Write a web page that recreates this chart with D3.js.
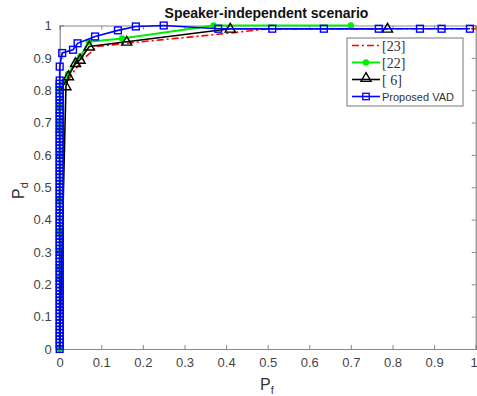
<!DOCTYPE html>
<html>
<head>
<meta charset="utf-8">
<script src="https://cdn.jsdelivr.net/npm/d3@7"></script>
<style>
body { margin: 0; background: #fff; }
text { font-family: "Liberation Sans", Arial, sans-serif; }
</style>
</head>
<body>
<svg width="477" height="396"></svg>
<script>
var svg = d3.select("svg");

//data
var xTicks = [0, 0.1, 0.2, 0.3, 0.4, 0.5, 0.6, 0.7, 0.8, 0.9, 1];
var yTicks = [0, 0.1, 0.2, 0.3, 0.4, 0.5, 0.6, 0.7, 0.8, 0.9, 1];

// [23] red dash-dot, no markers
var ref23X = [0, 0.003, 0.01, 0.02, 0.035, 0.06, 0.09, 0.16, 0.42, 0.5, 0.6, 0.8, 1];
var ref23Y = [0, 0.78, 0.81, 0.83, 0.86, 0.9, 0.935, 0.945, 0.978, 0.99, 0.99, 0.99, 0.99];

// [22] green with dots
var ref22X = [0, 0, 0, 0, 0, 0, 0, 0, 0, 0, 0.002, 0.01, 0.02, 0.04, 0.05, 0.07, 0.15, 0.37, 0.7];
var ref22Y = [0, 0.22, 0.25, 0.3, 0.36, 0.46, 0.6, 0.68, 0.7, 0.75, 0.8, 0.825, 0.85, 0.89, 0.905, 0.95, 0.96, 1, 1];

// [6] black with triangles
var ref6X = [0, 0.015, 0.021, 0.038, 0.049, 0.071, 0.161, 0.41, 0.788];
var ref6Y = [0, 0.812, 0.843, 0.884, 0.894, 0.935, 0.95, 0.99, 0.99];

// proposed VAD blue with squares: dense run on the Pf = 0 edge, then the knee
var vadEdgeY = [0, 0.01, 0.02, 0.03, 0.04, 0.05, 0.06, 0.07, 0.08, 0.09, 0.1, 0.11, 0.12, 0.13, 0.14,
  0.15, 0.16, 0.17, 0.18, 0.19, 0.2, 0.21, 0.22, 0.23, 0.24, 0.25, 0.26, 0.27, 0.28, 0.29, 0.3,
  0.31, 0.32, 0.33, 0.34, 0.35, 0.36, 0.37, 0.38, 0.39, 0.4, 0.41, 0.42, 0.43, 0.44, 0.45, 0.46,
  0.47, 0.48, 0.49, 0.5, 0.51, 0.52, 0.53, 0.54, 0.55, 0.56, 0.57, 0.58, 0.59, 0.6, 0.61, 0.62,
  0.63, 0.64, 0.65, 0.66, 0.67, 0.68, 0.69, 0.7, 0.71, 0.72, 0.73, 0.74, 0.75, 0.76, 0.77, 0.78,
  0.79, 0.8, 0.81, 0.82, 0.83];
var vadKneeX = [0, 0.006, 0.032, 0.043, 0.085, 0.14, 0.183, 0.25, 0.381, 0.511, 0.635, 0.767, 0.866, 0.918, 0.986];
var vadKneeY = [0.873, 0.915, 0.925, 0.945, 0.966, 0.985, 0.997, 1, 0.99, 0.99, 0.99, 0.99, 0.99, 0.99, 0.99];

var names = ["[23]", "[22]", "[ 6]", "Proposed VAD"];

//scales
var x = d3.scaleLinear().domain([0, 1]).range([59.7, 475.7]);
var y = d3.scaleLinear().domain([0, 1]).range([349, 25.5]);

var axisColor = "#888";
var labelColor = "#444";
var fmt = function (d) { return d === 0 || d === 1 ? d : d3.format(".1f")(d); };

//axes with inward ticks, box on all sides
var axBottom = svg.append("g")
	.attr("transform", "translate(0," + y(0) + ")")
	.call(d3.axisBottom(x).tickValues(xTicks).tickSize(-4).tickPadding(9).tickFormat(fmt));
var axLeft = svg.append("g")
	.attr("transform", "translate(" + x(0) + ",0)")
	.call(d3.axisLeft(y).tickValues(yTicks).tickSize(-4).tickPadding(8).tickFormat(fmt));
var axTop = svg.append("g")
	.attr("transform", "translate(0," + y(1) + ")")
	.call(d3.axisTop(x).tickValues(xTicks).tickSize(-4).tickFormat(""));
var axRight = svg.append("g")
	.attr("transform", "translate(" + x(1) + ",0)")
	.call(d3.axisRight(y).tickValues(yTicks).tickSize(-4).tickFormat(""));

[axBottom, axLeft, axTop, axRight].forEach(function (a) {
	a.attr("font-family", "'Liberation Sans', Arial, sans-serif").attr("font-size", 13);
	a.select(".domain").attr("stroke", axisColor).attr("stroke-width", 1.2);
	a.selectAll(".tick line").attr("stroke", axisColor);
	a.selectAll(".tick text").attr("fill", labelColor);
});
//last x label sits at the window edge
axBottom.selectAll(".tick text").filter(function (d) { return d === 1; }).attr("dx", -2);

//title and axis labels
svg.append("text")
	.attr("x", 266.5).attr("y", 18)
	.attr("text-anchor", "middle")
	.style("font-size", "14px").style("font-weight", "bold")
	.attr("fill", "#111")
	.text("Speaker-independent scenario");

var xl = svg.append("text")
	.attr("x", 260).attr("y", 390)
	.style("font-size", "16px").attr("fill", "#333");
xl.append("tspan").text("P");
xl.append("tspan").attr("dy", 4).style("font-size", "11px").text("f");

var yl = svg.append("text")
	.attr("transform", "translate(24,199) rotate(-90)")
	.style("font-size", "16px").attr("fill", "#333");
yl.append("tspan").text("P");
yl.append("tspan").attr("dy", 4).style("font-size", "11px").text("d");

var line = d3.line()
	.x(function (d) { return x(d[0]); })
	.y(function (d) { return y(d[1]); });

function pts(xs, ys) { return xs.map(function (v, i) { return [v, ys[i]]; }); }

var plot = svg.append("g");

//[23]
plot.append("path").datum(pts(ref23X, ref23Y))
	.attr("d", line).attr("fill", "none")
	.attr("stroke", "#ff0000").attr("stroke-width", 1.6)
	.attr("stroke-dasharray", "7,3,2,3");

//[22]
var p22 = pts(ref22X, ref22Y);
plot.append("path").datum(p22)
	.attr("d", line).attr("fill", "none")
	.attr("stroke", "#00ee00").attr("stroke-width", 2);
plot.selectAll(".dot22").data(p22).enter().append("circle")
	.attr("cx", function (d) { return x(d[0]); })
	.attr("cy", function (d) { return y(d[1]); })
	.attr("r", 3.2).attr("fill", "#00ee00");

//[6]
var p6 = pts(ref6X, ref6Y);
plot.append("path").datum(p6)
	.attr("d", line).attr("fill", "none")
	.attr("stroke", "#000").attr("stroke-width", 1.6);
var tri = d3.symbol().type(d3.symbolTriangle).size(44);
plot.selectAll(".tri6").data(p6.slice(1)).enter().append("path")
	.attr("d", tri)
	.attr("transform", function (d) { return "translate(" + x(d[0]) + "," + (y(d[1]) + 0.5) + ")"; })
	.attr("fill", "none").attr("stroke", "#000").attr("stroke-width", 1.4);

//proposed VAD
var pv = vadEdgeY.map(function (v) { return [0, v]; }).concat(pts(vadKneeX, vadKneeY));
plot.append("path").datum(pv)
	.attr("d", line).attr("fill", "none")
	.attr("stroke", "#0000ff").attr("stroke-width", 1.6);
plot.selectAll(".sq").data(pv).enter().append("rect")
	.attr("x", function (d) { return x(d[0]) - 3.4; })
	.attr("y", function (d) { return y(d[1]) - 3.4; })
	.attr("width", 6.8).attr("height", 6.8)
	.attr("fill", "none").attr("stroke", "#0000ff").attr("stroke-width", 1.4);

//legend
var lg = svg.append("g").attr("transform", "translate(347,38)");
lg.append("rect").attr("width", 116).attr("height", 68)
	.attr("fill", "#fff").attr("stroke", "#777").attr("stroke-width", 1);

var rows = [7.5, 24.5, 41.5, 58.5];
var lx1 = 5, lx2 = 33, mx = 19;

lg.append("line").attr("x1", lx1).attr("x2", lx2).attr("y1", rows[0]).attr("y2", rows[0])
	.attr("stroke", "#ff0000").attr("stroke-width", 1.6).attr("stroke-dasharray", "7,3,2,3");
lg.append("line").attr("x1", lx1).attr("x2", lx2).attr("y1", rows[1]).attr("y2", rows[1])
	.attr("stroke", "#00ee00").attr("stroke-width", 2);
lg.append("circle").attr("cx", mx).attr("cy", rows[1]).attr("r", 3.2).attr("fill", "#00ee00");
lg.append("line").attr("x1", lx1).attr("x2", lx2).attr("y1", rows[2]).attr("y2", rows[2])
	.attr("stroke", "#000").attr("stroke-width", 1.6);
lg.append("path").attr("d", tri).attr("transform", "translate(" + mx + "," + (rows[2] - 1) + ")")
	.attr("fill", "none").attr("stroke", "#000").attr("stroke-width", 1.4);
lg.append("line").attr("x1", lx1).attr("x2", lx2).attr("y1", rows[3]).attr("y2", rows[3])
	.attr("stroke", "#0000ff").attr("stroke-width", 1.6);
lg.append("rect").attr("x", mx - 3.2).attr("y", rows[3] - 3.2).attr("width", 6.4).attr("height", 6.4)
	.attr("fill", "none").attr("stroke", "#0000ff").attr("stroke-width", 1.3);

names.forEach(function (n, i) {
	var serif = i < 3;
	lg.append("text")
		.attr("x", 35).attr("y", rows[i] + (serif ? 5 : 4))
		.attr("fill", "#333")
		.style("font-family", serif ? "'Liberation Serif', 'Times New Roman', serif" : "'Liberation Sans', Arial, sans-serif")
		.style("font-size", serif ? "14px" : "11px")
		.text(n);
});
</script>
</body>
</html>
